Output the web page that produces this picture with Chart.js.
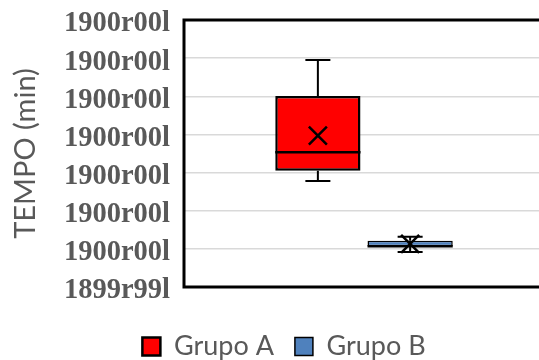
<!DOCTYPE html>
<html>
<head>
<meta charset="utf-8">
<script src="https://cdn.jsdelivr.net/npm/chart.js@4/dist/chart.umd.min.js"></script>
<style>
    html, body { margin: 0; padding: 0; background: #fff; overflow: hidden; }
    #wrap { width: 568px; height: 360px; }
</style>
</head>
<body>
<div id="wrap"><canvas id="boxChart"></canvas></div>
<script>
// Box plot values (axis units 0..7)
const groups = ['Grupo A', 'Grupo B'];
const groupColors = ['#ff0000', '#4f81bd'];
const whiskerLow = [2.78, 0.92];
const q1 = [3.05, 1.07];
const median = [3.53, 1.07];
const q3 = [5.01, 1.21];
const whiskerHigh = [5.95, 1.32];
const mean = [3.97, 1.13];

// Tick labels as shown on the y axis (bottom to top)
const yTickLabels = ['1899r99l', '1900r00l', '1900r00l', '1900r00l', '1900r00l', '1900r00l', '1900r00l', '1900r00l'];

const textGray = '#595959';

// Draws whiskers, median line and mean cross on top of the floating bars
const boxExtras = {
    id: 'boxExtras',
    afterDatasetsDraw(chart) {
        const ctx = chart.ctx;
        const yScale = chart.scales.y;
        ctx.save();
        ctx.strokeStyle = '#000';
        groups.forEach((g, i) => {
            const bar = chart.getDatasetMeta(i).data[0];
            if (!bar) return;
            const x = bar.x;
            const half = bar.width / 2;
            const yHi = yScale.getPixelForValue(whiskerHigh[i]);
            const yLo = yScale.getPixelForValue(whiskerLow[i]);
            const yQ3 = yScale.getPixelForValue(q3[i]);
            const yQ1 = yScale.getPixelForValue(q1[i]);
            const yMed = yScale.getPixelForValue(median[i]);
            const yMean = yScale.getPixelForValue(mean[i]);

            // whiskers + caps
            ctx.lineWidth = 2;
            ctx.beginPath();
            ctx.moveTo(x, yQ3); ctx.lineTo(x, yHi);
            ctx.moveTo(x, yQ1); ctx.lineTo(x, yLo);
            ctx.moveTo(x - 12.5, yHi); ctx.lineTo(x + 12.5, yHi);
            ctx.moveTo(x - 12.5, yLo); ctx.lineTo(x + 12.5, yLo);
            ctx.stroke();

            // median
            ctx.lineWidth = 2.5;
            ctx.beginPath();
            ctx.moveTo(x - half, yMed); ctx.lineTo(x + half, yMed);
            ctx.stroke();

            // mean marker
            ctx.lineWidth = 2.5;
            ctx.beginPath();
            ctx.moveTo(x - 9, yMean - 9); ctx.lineTo(x + 9, yMean + 9);
            ctx.moveTo(x - 9, yMean + 9); ctx.lineTo(x + 9, yMean - 9);
            ctx.stroke();
        });

        // plot area frame
        const a = chart.chartArea;
        ctx.lineWidth = 3;
        ctx.strokeRect(a.left, a.top, a.right - a.left, a.bottom - a.top);
        ctx.restore();
    }
};

const datasets = groups.map((g, i) => ({
    label: g,
    data: [[q1[i], q3[i]]],
    backgroundColor: groupColors[i],
    borderColor: '#000',
    borderWidth: i === 0 ? 2.5 : 1.5,
    borderSkipped: false,
    categoryPercentage: 0.5125,
    barPercentage: 0.924
}));

new Chart(document.getElementById('boxChart'), {
    type: 'bar',
    data: { labels: [''], datasets: datasets },
    options: {
        responsive: true,
        maintainAspectRatio: false,
        animation: false,
        layout: { padding: { left: 24, right: 24, top: 20, bottom: -10 } },
        plugins: {
            tooltip: { enabled: false },
            legend: {
                position: 'bottom',
                labels: {
                    color: textGray,
                    font: { family: 'Lato', size: 27 },
                    boxWidth: 18,
                    boxHeight: 18,
                    padding: 21
                }
            }
        },
        scales: {
            x: {
                grid: { display: false },
                border: { display: false },
                ticks: { display: false },
                afterFit: (scale) => { scale.height = 25; }
            },
            y: {
                min: 0,
                max: 7,
                ticks: {
                    stepSize: 1,
                    autoSkip: false,
                    color: textGray,
                    padding: 14,
                    labelOffset: 4,
                    font: { family: 'Liberation Serif', size: 28.5, weight: 'bold', lineHeight: 1 },
                    callback: (v) => yTickLabels[v]
                },
                grid: { color: '#d9d9d9', lineWidth: 1.5, drawTicks: false },
                border: { display: false },
                title: {
                    display: true,
                    text: 'TEMPO (min)',
                    color: textGray,
                    font: { family: 'Lato', size: 29 },
                    padding: { top: -15.5, bottom: 0 }
                },
                afterFit: (scale) => {
                    scale.width = 160;
                    scale.paddingTop = 0;
                    scale.paddingBottom = 0;
                }
            }
        }
    },
    plugins: [boxExtras]
});
</script>
</body>
</html>
